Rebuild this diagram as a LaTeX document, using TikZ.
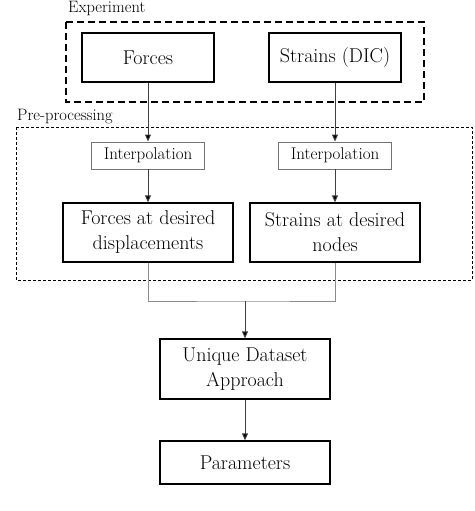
\documentclass[tikz,border=0pt]{standalone}
\usetikzlibrary{arrows.meta}
\begin{document}
\begin{tikzpicture}[x=1pt,y=-1pt,
  mainbox/.style={draw=black,line width=1.3pt,align=center,inner sep=0pt,font=\fontsize{20}{25}\selectfont},
  interbox/.style={draw=black!55,line width=0.9pt,align=center,inner sep=0pt,minimum width=113pt,minimum height=27pt,font=\fontsize{17}{19}\selectfont},
  grp/.style={line width=1.2pt,dash pattern=on 7pt off 4pt},
  grp2/.style={line width=1pt,dash pattern=on 3pt off 2pt},
  lbl/.style={inner sep=0pt,font=\fontsize{16.5}{18}\selectfont},
  arr/.style={draw=black!75,line width=0.9pt,-{Triangle[length=7pt,width=6pt,fill=black]}},
  ln/.style={draw=black!45,line width=0.9pt}]
\useasboundingbox (0,0) rectangle (474,511);
% groups
\draw[grp] (66,22) rectangle (424,102);
\node[lbl,anchor=west] (explbl) at (68,8) {Experiment};
\draw[grp2] (16,127) rectangle (472,280);
\node[lbl,anchor=west] (prelbl) at (17,117) {Pre-processing};
% nodes
\node[mainbox,minimum width=132pt,minimum height=49pt] (forces) at (148,57.5) {Forces};
\node[mainbox,minimum width=132pt,minimum height=49pt] (strains) at (335,57.5) {Strains (DIC)};
\node[interbox] (int1) at (148,155.5) {Interpolation};
\node[interbox] (int2) at (335,155.5) {Interpolation};
\node[mainbox,minimum width=170pt,minimum height=59pt] (fd) at (148,232.5) {Forces at desired\\displacements};
\node[mainbox,minimum width=170pt,minimum height=59pt] (sd) at (335,232.5) {Strains at desired\\nodes};
\node[mainbox,minimum width=170pt,minimum height=60pt] (uda) at (245,369) {Unique Dataset\\Approach};
\node[mainbox,minimum width=170pt,minimum height=43pt] (par) at (245,462.5) {Parameters};
\coordinate (m) at (245,301);
% connectors
\draw[arr] (forces) -- (int1);
\draw[arr] (strains) -- (int2);
\draw[arr] (int1) -- (fd);
\draw[arr] (int2) -- (sd);
\draw[ln] (fd.south) |- (m) -| (sd.south);
\draw[arr] (m) -- (uda);
\draw[arr] (uda) -- (par);
\end{tikzpicture}
\end{document}
